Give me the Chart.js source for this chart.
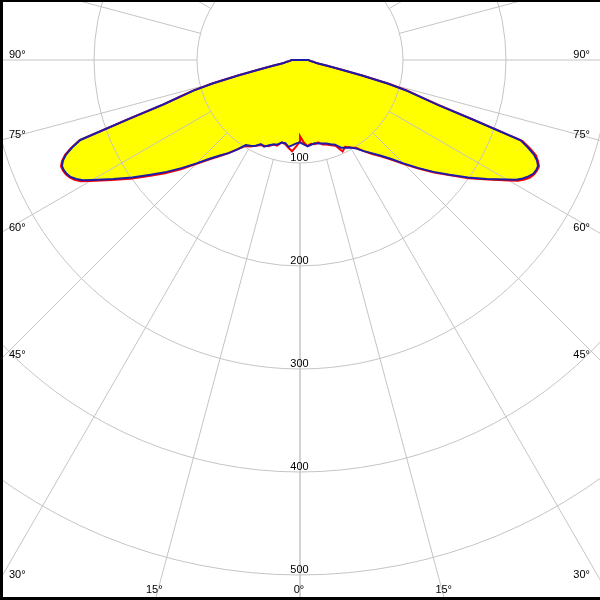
<!DOCTYPE html>
<html>
<head>
<meta charset="utf-8">
<script src="https://cdn.jsdelivr.net/npm/chart.js@4.4.0/dist/chart.umd.min.js"></script>
<style>
  html, body { margin: 0; padding: 0; background: #fff; }
  #wrap { width: 600px; height: 600px; }
</style>
</head>
<body>
<div id="wrap"><canvas id="polar" width="600" height="600"></canvas></div>
<script>
// gamma angles (deg from nadir) and intensities (cd/klm) per C-plane
const gammaAngles = [0, 2.5, 5, 7.5, 10, 12.5, 15, 17.5, 20, 22.5, 25, 27.5, 30, 32.5, 35, 37.5, 40, 42.5, 45, 47.5, 50, 52.5, 55, 57.5, 60,
  61, 62, 63, 64, 65, 66, 67, 68, 69, 70, 71, 72, 73, 74, 75, 76, 77, 78, 79, 80, 82.5, 85, 87.5, 90];
const c0 = [74, 80, 84, 82, 83, 82, 85, 86, 88, 90, 98, 95, 98, 101, 108, 115, 122, 131, 143, 156, 170, 184, 200, 216, 234,
  242, 247, 251, 253, 254, 254, 251, 247, 239, 230, 178, 142, 123, 109, 90, 64, 39, 27, 19, 16, 13, 10, 9, 8];
const c180 = [79, 84, 89, 86, 83, 82, 86, 86, 89, 90, 91, 94, 97, 99, 106, 114, 122, 131, 143, 157, 171, 185, 201, 217, 235,
  243, 248, 251, 253, 254, 254, 251, 246, 238, 228, 176, 140, 122, 108, 89, 63, 39, 27, 19, 16, 13, 10, 9, 8];
const c90 = [80, 82, 84, 83, 82, 83, 84, 85, 87, 89, 94, 96, 98, 102, 108, 114, 121, 130, 142, 155, 169, 183, 199, 215, 232,
  240, 245, 249, 252, 253, 253, 250, 245, 237, 228, 176, 140, 121, 107, 88, 62, 38, 26, 18, 15.5, 12.5, 10, 9, 8];
const c270 = [80, 81, 83, 85, 82, 82, 85, 86, 88, 91, 90, 94, 96, 98, 106, 114, 121, 130, 142, 155, 169, 183, 199, 215, 233,
  241, 246, 250, 252, 253, 253, 250, 245, 237, 227, 175, 139, 121, 107, 88, 62, 38, 26, 18, 15.5, 12.5, 10, 9, 8];

const ringValues = [100, 200, 300, 400, 500, 600, 700];
const ringLabels = ['100', '200', '300', '400', '500'];
const spokeAngles = [0, 15, 30, 45, 60, 75, 90, 105, 120, 135, 150, 165, 180];
const angleLabels = [0, 15, 30, 45, 60, 75, 90];

// 1 unit = 1.03 px, centre at (300, 60)
const PX = 1.03;

function planePoints(left, right) {
  const pts = [];
  for (let i = gammaAngles.length - 1; i >= 0; i--) {
    const g = gammaAngles[i] * Math.PI / 180;
    pts.push({ x: -left[i] * Math.sin(g), y: -left[i] * Math.cos(g) });
  }
  for (let i = 0; i < gammaAngles.length; i++) {
    const g = gammaAngles[i] * Math.PI / 180;
    pts.push({ x: right[i] * Math.sin(g), y: -right[i] * Math.cos(g) });
  }
  pts.push(pts[0]);
  return pts;
}

const FONT = '11px "Liberation Sans", Arial, sans-serif';

const polarGrid = {
  id: 'polarGrid',
  beforeDatasetsDraw(chart) {
    const { ctx, scales: { x, y } } = chart;
    const cx = x.getPixelForValue(0), cy = y.getPixelForValue(0);

    // yellow area inside the C90-C270 curve
    const pts = chart.getDatasetMeta(0).data;
    ctx.save();
    ctx.fillStyle = '#ffff00';
    ctx.beginPath();
    pts.forEach((p, i) => i ? ctx.lineTo(p.x, p.y) : ctx.moveTo(p.x, p.y));
    ctx.closePath();
    ctx.fill();

    ctx.strokeStyle = '#c4c4c4';
    ctx.lineWidth = 1;
    ringValues.forEach(v => {
      ctx.beginPath();
      ctx.arc(cx, cy, x.getPixelForValue(v) - cx, 0, Math.PI * 2);
      ctx.stroke();
    });
    spokeAngles.forEach(g => {
      [-1, 1].forEach(side => {
        const r = g * Math.PI / 180;
        const sx = side * Math.sin(r), sy = -Math.cos(r);
        ctx.beginPath();
        ctx.moveTo(x.getPixelForValue(100 * sx), y.getPixelForValue(100 * sy));
        ctx.lineTo(x.getPixelForValue(900 * sx), y.getPixelForValue(900 * sy));
        ctx.stroke();
      });
    });
    ctx.restore();
  },
  afterDraw(chart) {
    const { ctx, scales: { x, y } } = chart;
    const cx = x.getPixelForValue(0), cy = y.getPixelForValue(0);
    const W = chart.width, H = chart.height;
    ctx.save();
    ctx.font = FONT;
    ctx.fillStyle = '#000';
    ctx.textBaseline = 'alphabetic';

    // ring values along the 0° line
    ctx.textAlign = 'center';
    ringLabels.forEach(t => {
      const py = y.getPixelForValue(-Number(t));
      ctx.fillText(t, cx - 0.5, py - 2);
    });

    // angle labels where the spokes leave the picture
    angleLabels.forEach(g => {
      const r = g * Math.PI / 180;
      [-1, 1].forEach(side => {
        if (g === 0 && side === 1) return;
        const s = Math.sin(r), c = Math.cos(r);
        const tSide = s > 0 ? (W / 2) / s : Infinity;
        const tBottom = c > 0 ? (H - cy) / c : Infinity;
        const label = g + '°';
        if (tSide < tBottom) {
          const ey = cy + tSide * c;
          ctx.textAlign = side < 0 ? 'left' : 'right';
          ctx.fillText(label, side < 0 ? 9 : W - 10, ey - 2);
        } else {
          const ex = cx + side * tBottom * s;
          ctx.textAlign = 'center';
          ctx.fillText(label, ex - 1, H - 7);
        }
      });
    });

    // frame
    ctx.fillStyle = '#000';
    ctx.fillRect(0, 0, 3, H);
    ctx.fillRect(0, 0, W, 2);
    ctx.fillRect(0, H - 3, W, 3);
    ctx.restore();
  }
};

new Chart(document.getElementById('polar'), {
  type: 'scatter',
  data: {
    datasets: [
      {
        label: 'C90 - C270',
        data: planePoints(c270, c90),
        showLine: true,
        borderColor: '#1c1caa',
        borderWidth: 2,
        pointRadius: 0,
        fill: false,
        tension: 0
      },
      {
        label: 'C0 - C180',
        data: planePoints(c180, c0),
        showLine: true,
        borderColor: '#ff0000',
        borderWidth: 2,
        pointRadius: 0,
        fill: false,
        tension: 0
      }
    ]
  },
  options: {
    responsive: false,
    animation: false,
    events: [],
    layout: { padding: 0 },
    scales: {
      x: { display: false, min: -300 / PX, max: 300 / PX },
      y: { display: false, min: -540 / PX, max: 60 / PX }
    },
    plugins: {
      legend: { display: false },
      tooltip: { enabled: false }
    }
  },
  plugins: [polarGrid]
});
</script>
</body>
</html>
